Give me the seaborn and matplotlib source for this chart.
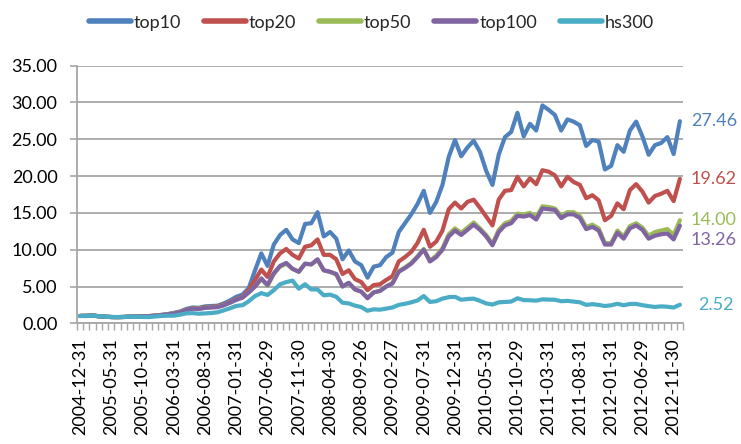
import numpy as np
import pandas as pd
import matplotlib
matplotlib.use("Agg")
import matplotlib.pyplot as plt
import seaborn as sns
from matplotlib.ticker import FormatStrFormatter

tick_labels = ["2004-12-31", "2005-05-31", "2005-10-31", "2006-03-31", "2006-08-31",
               "2007-01-31", "2007-06-29", "2007-11-30", "2008-04-30", "2008-09-26",
               "2009-02-27", "2009-07-31", "2009-12-31", "2010-05-31", "2010-10-29",
               "2011-03-31", "2011-08-31", "2012-01-31", "2012-06-29", "2012-11-30"]

top10 = [1.00, 1.02, 1.08, 0.95, 0.90, 0.85, 0.84, 0.86, 0.92, 0.94,
         0.96, 0.98, 1.05, 1.15, 1.25, 1.40, 1.60, 1.95, 2.15, 2.10,
         2.30, 2.35, 2.40, 2.70, 3.10, 3.60, 3.90, 4.80, 7.20, 9.50,
         7.80, 10.70, 12.00, 12.70, 11.40, 10.90, 13.50, 13.60, 15.10, 11.80,
         12.40, 11.50, 8.70, 9.90, 8.40, 7.90, 6.20, 7.70, 7.90, 9.00,
         9.60, 12.40, 13.60, 14.80, 16.20, 18.00, 15.00, 16.50, 18.80, 22.60,
         24.90, 22.70, 23.90, 24.80, 23.30, 20.70, 18.80, 22.90, 25.30, 26.00,
         28.60, 25.40, 27.10, 26.20, 29.60, 29.00, 28.30, 26.20, 27.70, 27.40,
         26.90, 24.10, 24.90, 24.70, 20.90, 21.40, 24.20, 23.30, 26.20, 27.40,
         25.40, 22.90, 24.20, 24.50, 25.30, 23.00, 27.46]

top20 = [1.00, 1.02, 1.07, 0.95, 0.90, 0.85, 0.84, 0.86, 0.91, 0.93,
         0.95, 0.97, 1.04, 1.12, 1.22, 1.38, 1.55, 1.85, 2.05, 2.00,
         2.20, 2.25, 2.30, 2.55, 2.90, 3.30, 3.60, 4.50, 5.90, 7.30,
         6.30, 8.40, 9.50, 10.10, 9.30, 8.80, 10.40, 10.60, 11.40, 9.30,
         9.30, 8.70, 6.70, 7.20, 6.00, 5.60, 4.50, 5.20, 5.30, 5.90,
         6.40, 8.40, 9.00, 9.70, 10.90, 12.70, 10.40, 11.10, 12.60, 15.50,
         16.40, 15.60, 16.50, 16.80, 15.70, 14.50, 13.30, 16.80, 18.00, 18.10,
         19.90, 18.60, 19.70, 18.90, 20.80, 20.60, 20.10, 18.60, 19.90, 19.20,
         18.80, 17.00, 17.40, 16.70, 14.00, 14.60, 16.30, 15.50, 18.10, 18.90,
         17.90, 16.40, 17.30, 17.60, 18.00, 16.60, 19.62]

top50 = [1.00, 1.01, 1.06, 0.95, 0.90, 0.85, 0.84, 0.86, 0.91, 0.93,
         0.95, 0.97, 1.03, 1.11, 1.20, 1.35, 1.52, 1.82, 2.02, 1.97,
         2.12, 2.17, 2.22, 2.47, 2.82, 3.20, 3.50, 4.20, 5.00, 6.00,
         5.10, 6.70, 7.70, 8.10, 7.40, 7.00, 8.10, 8.00, 8.60, 7.20,
         7.00, 6.60, 5.00, 5.50, 4.60, 4.30, 3.50, 4.20, 4.40, 5.00,
         5.50, 7.10, 7.60, 8.20, 9.10, 10.10, 8.50, 9.20, 10.20, 12.10,
         12.90, 12.30, 13.00, 13.70, 12.90, 12.00, 10.80, 12.70, 13.60, 13.90,
         14.90, 14.80, 15.00, 14.40, 15.90, 15.80, 15.60, 14.60, 15.10, 15.10,
         14.60, 13.10, 13.40, 12.90, 10.90, 10.90, 12.60, 11.80, 13.20, 13.60,
         13.00, 11.90, 12.40, 12.60, 12.80, 12.00, 14.00]

top100 = [1.00, 1.01, 1.06, 0.95, 0.90, 0.85, 0.84, 0.86, 0.91, 0.93,
          0.95, 0.97, 1.03, 1.10, 1.19, 1.34, 1.50, 1.80, 2.00, 1.95,
          2.10, 2.15, 2.20, 2.45, 2.80, 3.20, 3.50, 4.20, 5.00, 6.10,
          5.20, 6.80, 7.80, 8.20, 7.40, 7.00, 8.10, 8.00, 8.70, 7.20,
          7.00, 6.70, 5.00, 5.50, 4.60, 4.30, 3.40, 4.20, 4.40, 5.00,
          5.40, 7.00, 7.50, 8.10, 9.00, 10.00, 8.40, 9.00, 10.00, 11.80,
          12.60, 12.00, 12.70, 13.40, 12.70, 11.80, 10.60, 12.40, 13.30, 13.60,
          14.60, 14.50, 14.70, 14.10, 15.60, 15.50, 15.40, 14.30, 14.80, 14.80,
          14.30, 12.80, 13.10, 12.60, 10.70, 10.70, 12.30, 11.50, 12.90, 13.30,
          12.70, 11.50, 11.90, 12.10, 12.20, 11.40, 13.26]

hs300 = [1.00, 0.98, 1.05, 0.96, 0.91, 0.86, 0.85, 0.86, 0.90, 0.88,
         0.86, 0.85, 0.92, 1.00, 1.03, 1.04, 1.17, 1.35, 1.38, 1.30,
         1.35, 1.40, 1.50, 1.76, 2.04, 2.36, 2.46, 3.00, 3.70, 4.10,
         3.85, 4.50, 5.30, 5.60, 5.80, 4.70, 5.30, 4.60, 4.60, 3.80,
         3.90, 3.60, 2.80, 2.70, 2.40, 2.20, 1.70, 1.90, 1.85, 2.00,
         2.15, 2.50, 2.65, 2.85, 3.10, 3.70, 2.90, 3.00, 3.35, 3.55,
         3.60, 3.20, 3.30, 3.35, 3.05, 2.70, 2.55, 2.85, 2.90, 2.95,
         3.40, 3.15, 3.13, 3.08, 3.25, 3.22, 3.20, 3.00, 3.05, 2.95,
         2.85, 2.50, 2.60, 2.50, 2.35, 2.45, 2.65, 2.45, 2.63, 2.63,
         2.46, 2.33, 2.22, 2.30, 2.25, 2.14, 2.52]

series_names = ["top10", "top20", "top50", "top100", "hs300"]
series_values = [top10, top20, top50, top100, hs300]
colors = ["#4F81BD", "#C0504D", "#9BBB59", "#8064A2", "#4BACC6"]

sns.set_theme(style="white")
plt.rcParams["font.family"] = ["Lato", "DejaVu Sans"]

n = len(top10)
df = pd.DataFrame({
    "month": np.tile(np.arange(n), len(series_names)),
    "value": np.concatenate(series_values),
    "series": np.repeat(series_names, n),
})

W, H = 741, 444
fig = plt.figure(figsize=(W / 100, H / 100), dpi=100)
ax = fig.add_axes([77 / W, 1 - 323.3 / H, (683 - 77) / W, (323.3 - 65.7) / H])

sns.lineplot(data=df, x="month", y="value", hue="series", hue_order=series_names,
             palette=colors, linewidth=3.0, estimator=None, sort=False,
             legend=False, ax=ax)
for ln in ax.lines:
    ln.set_solid_joinstyle("round")
    ln.set_solid_capstyle("round")

ax.set_xlim(-0.5, n - 0.5)
ax.set_ylim(0, 35)
ax.set_yticks(np.arange(0, 35.01, 5))
ax.yaxis.set_major_formatter(FormatStrFormatter("%.2f"))
ax.set_xticks(np.arange(0, n, 5))
ax.set_xticklabels(tick_labels, rotation=90)
ax.set_xticks(np.arange(-0.5, n, 1), minor=True)
ax.set_xlabel("")
ax.set_ylabel("")

grid_c = "#A6A6A6"
ax.yaxis.grid(True, color=grid_c, linewidth=1.3)
ax.xaxis.grid(False)
ax.set_axisbelow(True)
for s in ["top", "right"]:
    ax.spines[s].set_visible(False)
for s in ["left", "bottom"]:
    ax.spines[s].set_color(grid_c)
    ax.spines[s].set_linewidth(1.3)

ax.tick_params(axis="y", which="major", left=True, length=5, width=1.2,
               color=grid_c, pad=9, labelsize=13, labelcolor="black")
ax.tick_params(axis="x", which="major", bottom=True, length=0, pad=11,
               labelsize=13, labelcolor="black")
ax.tick_params(axis="x", which="minor", bottom=True, length=5, width=1.0,
               color=grid_c, direction="out")

# end-of-series value labels
label_offsets = {"top10": (8, 0), "top20": (8, 0), "top50": (8, 0),
                 "top100": (8, -10), "hs300": (13.5, 0)}
for name, vals, c in zip(series_names, series_values, colors):
    dx, dy = label_offsets[name]
    ax.annotate(f"{vals[-1]:.2f}", xy=(n - 1, vals[-1]), xytext=(dx, dy),
                textcoords="offset points", ha="left", va="center",
                color=c, fontsize=13, annotation_clip=False)

handles = [plt.Line2D([], [], color=c, linewidth=4, solid_capstyle="round")
           for c in colors]
fig.legend(handles, series_names, loc="center", bbox_to_anchor=(0.501, 0.949),
           ncol=5, frameon=False, fontsize=13, handlelength=2.35,
           handletextpad=0.15, columnspacing=1.25, borderpad=0.2)

fig.savefig("out.png", dpi=100)
